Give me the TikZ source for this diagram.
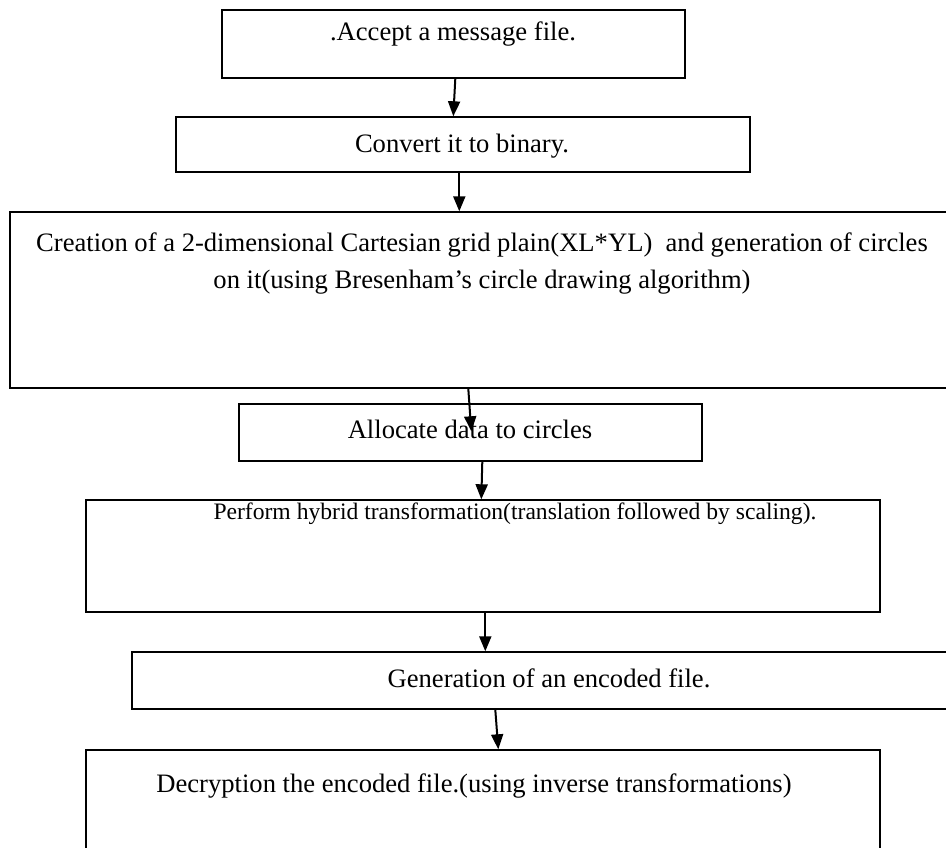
\documentclass[tikz,border=0pt]{standalone}
\usepackage{fontspec}
\setmainfont{Liberation Serif}
\usetikzlibrary{arrows.meta,calc}
\begin{document}
\begin{tikzpicture}[x=1pt,y=-1pt,
  box/.style={draw=black,line width=1.4pt,fill=white,inner sep=0pt},
  lbl/.style={inner sep=0pt,anchor=base,font=\fontsize{26.6}{36}\selectfont},
  arr/.style={line width=2pt,-{Triangle[length=15pt,width=12pt]}}]
\useasboundingbox (0,0) rectangle (946,847);
\fill[white] (0,0) rectangle (946,847);
% boxes
\node[box, minimum width=463pt, minimum height=68pt] (b1) at (453.5,44) {};
\node[box, minimum width=574pt, minimum height=55pt] (b2) at (463,144.5) {};
\node[box, minimum width=970pt, minimum height=176pt] (b3) at (495,300) {};
\node[box, minimum width=463pt, minimum height=57pt] (b4) at (470.5,432.5) {};
\node[box, minimum width=794pt, minimum height=112pt] (b5) at (483,556) {};
\node[box, minimum width=848pt, minimum height=57pt] (b6) at (556,680.5) {};
\node[box, minimum width=794pt, minimum height=130pt] (b7) at (483,815) {};
% texts
\node[lbl] (t1) at (453,40) {.Accept a message file.};
\node[lbl] (t2) at (462,152) {Convert it to binary.};
\node[lbl] (t3a) at (482,251) {Creation of a 2-dimensional Cartesian grid plain(XL*YL)\ \ and generation of circles};
\node[lbl] (t3b) at (482,288) {on it(using Bresenham’s circle drawing algorithm)};
\node[lbl] (t4) at (470,438) {Allocate data to circles};
\node[lbl,font=\fontsize{23.6}{30}\selectfont] (t5) at (515,519) {Perform hybrid transformation(translation followed by scaling).};
\node[lbl] (t6) at (549,687) {Generation of an encoded file.};
\node[lbl] (t7) at (474,792) {Decryption the encoded file.(using inverse transformations)};
% arrows
\draw[arr] ($(b1.south west)+(234,0)$) -- ($(b2.north west)+(278,0)$);
\draw[arr] ($(b2.south west)+(284,0)$) -- ($(b3.north west)+(450,0)$);
\draw[arr] ($(b3.south west)+(459,0)$) -- ($(b4.north west)+(233,28)$);
\draw[arr] ($(b4.south west)+(244,0)$) -- ($(b5.north west)+(396,0)$);
\draw[arr] ($(b5.south west)+(400,0)$) -- ($(b6.north west)+(354,0)$);
\draw[arr] ($(b6.south west)+(364,0)$) -- ($(b7.north west)+(413,0)$);
\end{tikzpicture}
\end{document}
